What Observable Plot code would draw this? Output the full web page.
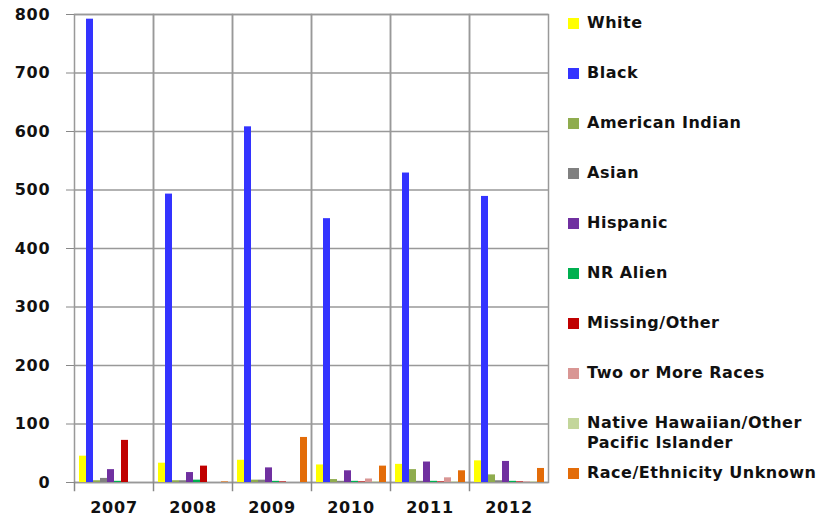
<!DOCTYPE html>
<html>
<head>
<meta charset="utf-8">
<script src="https://cdn.jsdelivr.net/npm/d3@7"></script>
<script src="https://cdn.jsdelivr.net/npm/@observablehq/plot@0.6"></script>
<style>
  html, body { margin: 0; padding: 0; background: #fff; }
  #wrap { position: relative; width: 823px; height: 517px; overflow: hidden; }
  #chart { position: absolute; left: 0; top: 0; }
  #legend { position: absolute; left: 568px; top: 13px; font-family: "DejaVu Sans", sans-serif; font-weight: bold; font-size: 16px; letter-spacing: 0.5px; color: #111; }
  .item { height: 50px; display: flex; align-items: flex-start; }
  .sw { width: 11px; height: 11px; margin-top: 5px; margin-right: 8px; flex: none; }
  .lab { line-height: 20px; white-space: pre-line; }
</style>
</head>
<body>
<div id="wrap"><div id="chart"></div><div id="legend"></div></div>
<script>
const years = ["2007", "2008", "2009", "2010", "2011", "2012"];
const races = ["White", "Black", "American Indian", "Asian", "Hispanic", "NR Alien", "Missing/Other", "Two or More Races", "Native Hawaiian/Other Pacific Islander", "Race/Ethnicity Unknown"];
const legendLabels = ["White", "Black", "American Indian", "Asian", "Hispanic", "NR Alien", "Missing/Other", "Two or More Races", "Native Hawaiian/Other\nPacific Islander", "Race/Ethnicity Unknown"];
const colors = ["#ffff00", "#3333ff", "#8fac4e", "#808080", "#7030a0", "#00b050", "#c00000", "#d99694", "#c3d69b", "#e36c09"];

const white    = [45, 33, 38, 30, 31, 37];
const black    = [792, 493, 608, 451, 529, 489];
const amIndian = [3, 3, 4, 5, 22, 13];
const asian    = [7, 3, 4, 2, 2, 3];
const hispanic = [22, 17, 25, 20, 35, 36];
const nrAlien  = [2, 4, 2, 2, 2, 2];
const missing  = [72, 28, 1, 1, 1, 1];
const twoMore  = [0, 0, 0, 6, 8, 1];
const nativeHI = [0, 0, 0, 1, 1, 1];
const unknown  = [0, 1, 77, 28, 20, 24];
const yTicks = [0, 100, 200, 300, 400, 500, 600, 700, 800];

const series = [white, black, amIndian, asian, hispanic, nrAlien, missing, twoMore, nativeHI, unknown];
const data = [];
years.forEach((yr, i) => races.forEach((r, j) => data.push({year: yr, race: r, value: series[j][i]})));

const font = "DejaVu Sans, sans-serif";
const chart = Plot.plot({
  width: 560,
  height: 517,
  marginLeft: 72,
  marginRight: 10,
  marginTop: 14,
  marginBottom: 35,
  style: {fontFamily: font, fontSize: "16px", fontWeight: "bold", color: "#111", background: "#fff", letterSpacing: "0.8px"},
  fx: {domain: years, padding: 0, label: null},
  x: {domain: races, axis: null, paddingInner: 0.06, paddingOuter: 0.5},
  y: {domain: [0, 800], label: null},
  color: {domain: races, range: colors},
  marks: [
    Plot.gridY(yTicks, {stroke: "#999", strokeOpacity: 1, strokeWidth: 1.5}),
    Plot.frame({stroke: "#999", strokeWidth: 1.5}),
    Plot.frame({anchor: "left", stroke: "#888", strokeWidth: 1.5, insetTop: 468, insetBottom: -8}),
    Plot.barY(data, {fx: "year", x: "race", y: "value", fill: "race"}),
    Plot.axisY(yTicks, {tickSize: 8, tickPadding: 16, stroke: "#888", fontWeight: "bold", fontSize: 16}),
    Plot.axisFx({anchor: "bottom", tickSize: 0, tickPadding: 19, fontWeight: "bold", fontSize: 16, label: null})
  ]
});
document.getElementById("chart").appendChild(chart);

const legend = document.getElementById("legend");
legendLabels.forEach((lab, i) => {
  const it = document.createElement("div");
  it.className = "item";
  const sw = document.createElement("div");
  sw.className = "sw";
  sw.style.background = colors[i];
  const tx = document.createElement("div");
  tx.className = "lab";
  tx.textContent = lab;
  it.appendChild(sw);
  it.appendChild(tx);
  legend.appendChild(it);
});
</script>
</body>
</html>
